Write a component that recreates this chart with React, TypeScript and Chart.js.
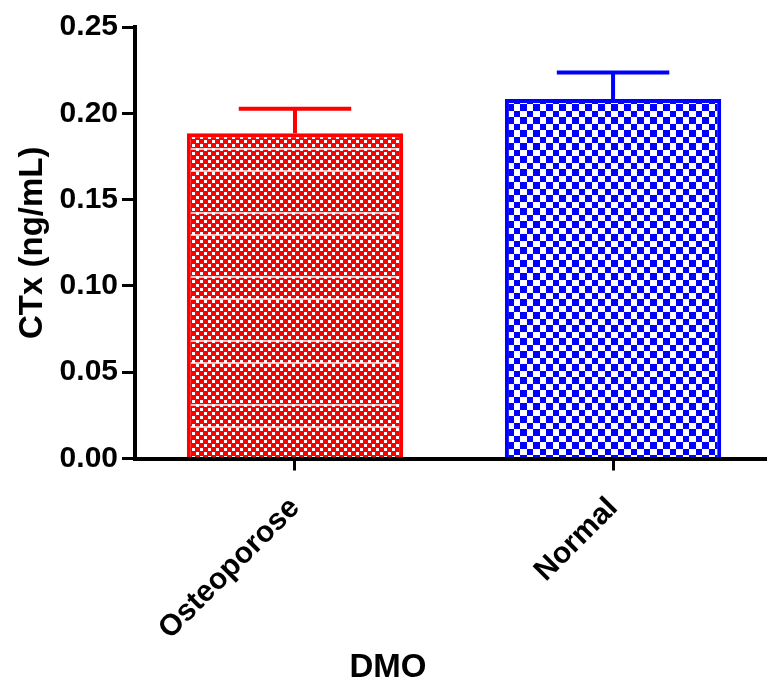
import React, { useEffect, useRef } from "react";
import { Chart, registerables } from "chart.js";

Chart.register(...registerables);

const categories = ["Osteoporose", "Normal"];
const means = [0.1885, 0.2083];
const sems = [0.0142, 0.0153];
const colors = ["#ff0000", "#0000ff"];
const yTicks = [0, 0.05, 0.1, 0.15, 0.2, 0.25];
const yTitle = "CTx (ng/mL)";
const xTitle = "DMO";

function redPattern(ctx: CanvasRenderingContext2D) {
  const c = document.createElement("canvas");
  c.width = 8;
  c.height = 64;
  const g = c.getContext("2d")!;
  g.fillStyle = "#ff0000";
  g.fillRect(0, 0, 8, 64);
  g.fillStyle = "#ffffff";
  for (let y = 0; y < 64; y += 8) {
    g.fillRect(0, y, 3, 3);
    g.fillRect(4, y + 4, 3, 3);
  }
  g.fillStyle = "rgba(255,255,255,0.75)";
  g.fillRect(0, 20, 8, 2);
  g.fillRect(0, 42, 8, 2);
  return ctx.createPattern(c, "repeat")!;
}

function bluePattern(ctx: CanvasRenderingContext2D) {
  const c = document.createElement("canvas");
  c.width = 13;
  c.height = 13;
  const g = c.getContext("2d")!;
  g.fillStyle = "#ffffff";
  g.fillRect(0, 0, 13, 13);
  g.fillStyle = "#0000ff";
  g.fillRect(0, 0, 7, 7);
  g.fillRect(7, 7, 6, 6);
  return ctx.createPattern(c, "repeat")!;
}

const errorBars = {
  id: "errorBars",
  afterDatasetsDraw(chart: any) {
    const { ctx } = chart;
    const xs = chart.scales.x;
    const ys = chart.scales.y;
    const meta = chart.getDatasetMeta(0);
    ctx.save();
    ctx.lineWidth = 4;
    ctx.lineCap = "butt";
    means.forEach((m, i) => {
      const x = xs.getPixelForValue(i);
      const yb = ys.getPixelForValue(m);
      const yt = ys.getPixelForValue(m + sems[i]);
      const half = meta.data[i].width * 0.26;
      ctx.strokeStyle = colors[i];
      ctx.beginPath();
      ctx.moveTo(x, yb);
      ctx.lineTo(x, yt);
      ctx.moveTo(x - half, yt);
      ctx.lineTo(x + half, yt);
      ctx.stroke();
    });
    ctx.restore();
  },
};

export default function App() {
  const ref = useRef<HTMLCanvasElement>(null);
  useEffect(() => {
    const canvas = ref.current!;
    const ctx = canvas.getContext("2d")!;
    Chart.defaults.font.family = "'Liberation Sans', Arial, sans-serif";
    Chart.defaults.color = "#000";
    const fills = [redPattern(ctx), bluePattern(ctx)];
    const chart = new Chart(canvas, {
      type: "bar",
      data: {
        datasets: [
          {
            data: means.map((m, i) => ({ x: i, y: m })),
            backgroundColor: fills,
            borderColor: colors,
            borderWidth: 4,
            borderSkipped: "start",
            categoryPercentage: 1,
            barPercentage: 0.68,
          } as any,
        ],
      },
      options: {
        responsive: false,
        animation: false,
        layout: { padding: { left: 9, top: 27, right: 0, bottom: 0 } },
        plugins: {
          legend: { display: false },
          tooltip: { enabled: false },
          title: {
            display: true,
            position: "bottom",
            text: xTitle,
            color: "#000",
            font: { size: 33, weight: "bold" },
            padding: { top: 0, bottom: 0 },
          },
        },
        scales: {
          x: {
            type: "linear",
            offset: false,
            min: -0.503,
            max: 1.484,
            afterBuildTicks: (s: any) => {
              s.ticks = categories.map((_, i) => ({ value: i }));
            },
            afterFit: (s: any) => {
              s.height = 648.4 - 458.5;
            },
            ticks: {
              callback: (v: any) => categories[v as number] ?? "",
              minRotation: 45,
              maxRotation: 45,
              padding: 20,
              font: { size: 30, weight: "bold" },
              color: "#000",
            },
            grid: {
              offset: false,
              drawOnChartArea: false,
              drawTicks: true,
              tickLength: 12,
              color: "#000",
              lineWidth: 3,
            },
            border: { display: true, color: "#000", width: 4 },
          },
          y: {
            min: 0,
            max: 0.25,
            afterBuildTicks: (s: any) => {
              s.ticks = yTicks.map((v) => ({ value: v }));
            },
            afterFit: (s: any) => {
              s.width = 135 - 9;
            },
            ticks: {
              callback: (v: any) => Number(v).toFixed(2),
              padding: 4,
              font: { size: 30, weight: "bold" },
              color: "#000",
            },
            grid: {
              drawOnChartArea: false,
              drawTicks: true,
              tickLength: 13,
              color: "#000",
              lineWidth: 3,
            },
            border: { display: true, color: "#000", width: 4 },
            title: {
              display: true,
              text: yTitle,
              font: { size: 33, weight: "bold" },
              color: "#000",
            },
          },
        },
      },
      plugins: [errorBars],
    });
    return () => chart.destroy();
  }, []);
  return (
    <div style={{ position: "absolute", left: 0, top: 0, width: 767, height: 688, background: "#fff" }}>
      <canvas ref={ref} width={767} height={688} style={{ display: "block" }} />
    </div>
  );
}
